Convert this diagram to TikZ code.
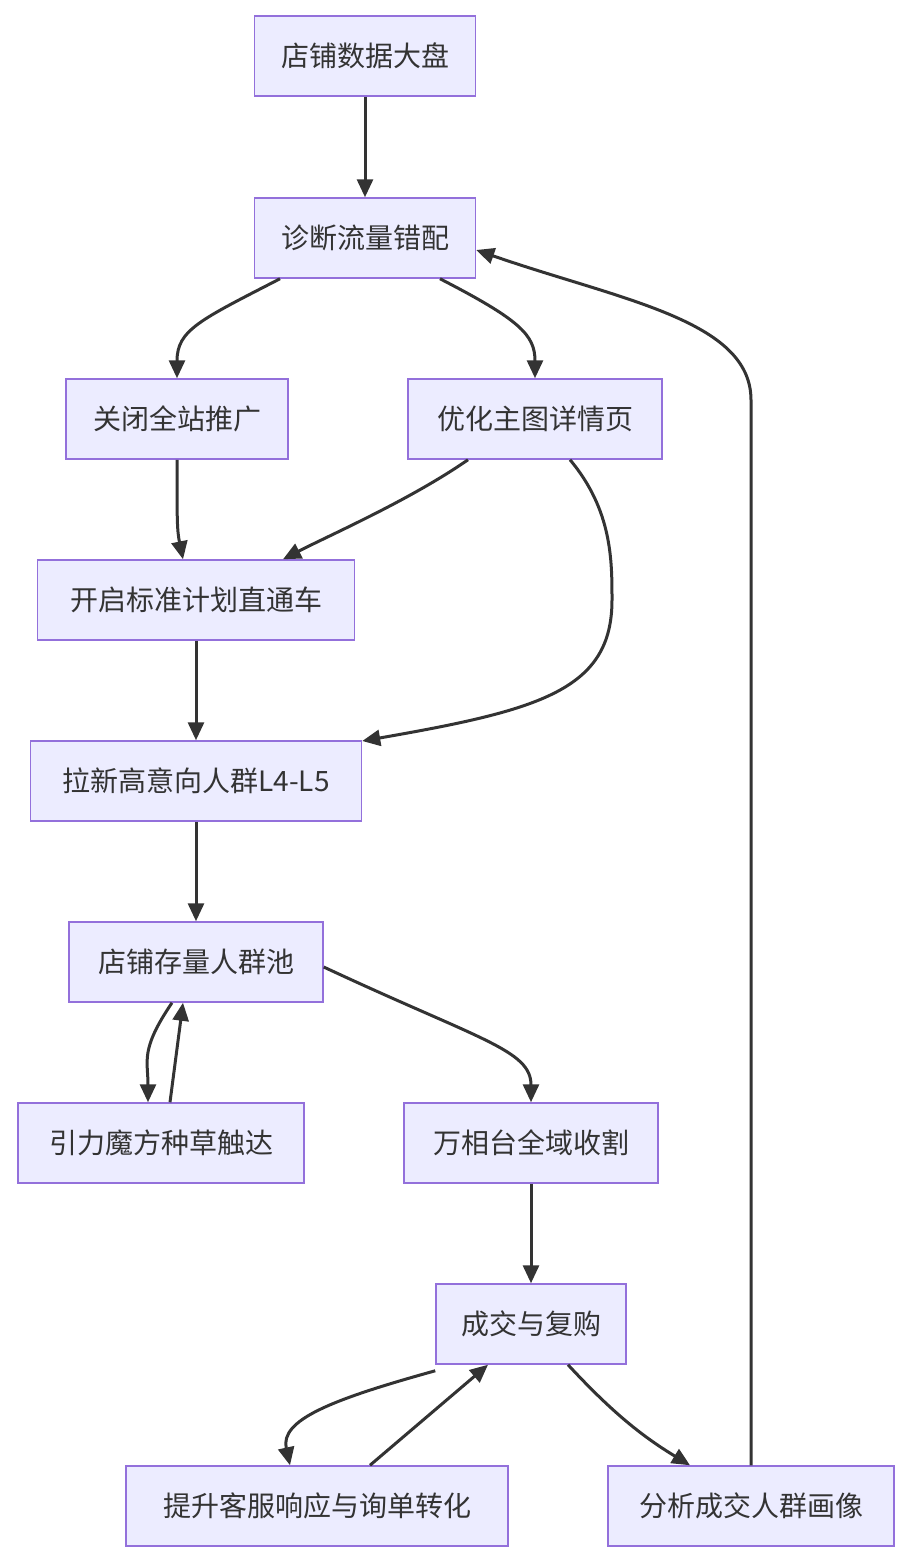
\documentclass[tikz,border=0pt]{standalone}
\usepackage{fontspec}
\setmainfont{Noto Sans CJK SC}
\usetikzlibrary{arrows.meta}
\definecolor{boxfill}{HTML}{ECECFF}
\definecolor{boxline}{HTML}{9370DB}
\definecolor{edge}{HTML}{333333}
\begin{document}
\begin{tikzpicture}[x=1pt, y=-1pt,
  box/.style={draw=boxline, fill=boxfill, line width=1.5pt, minimum height=80pt, inner sep=0pt, font=\fontsize{28}{34}\selectfont, text=edge},
  flow/.style={draw=edge, line width=3pt, -{Triangle[length=18pt,width=16pt]}}]
  \useasboundingbox (0,0) rectangle (912,1564);
  \node[box, minimum width=221pt] (A) at (365,56) {店铺数据大盘};
  \node[box, minimum width=221pt] (B) at (365,238) {诊断流量错配};
  \node[box, minimum width=222pt] (C) at (177,419) {关闭全站推广};
  \node[box, minimum width=254pt] (D) at (535,419) {优化主图详情页};
  \node[box, minimum width=317pt] (E) at (196,600) {开启标准计划直通车};
  \node[box, minimum width=331pt] (F) at (196,781) {拉新高意向人群L4-L5};
  \node[box, minimum width=254pt] (G) at (196,962) {店铺存量人群池};
  \node[box, minimum width=286pt] (H) at (161,1143) {引力魔方种草触达};
  \node[box, minimum width=254pt] (I) at (531,1143) {万相台全域收割};
  \node[box, minimum width=190pt] (J) at (531,1324) {成交与复购};
  \node[box, minimum width=382pt] (K) at (317,1506) {提升客服响应与询单转化};
  \node[box, minimum width=286pt] (L) at (751,1506) {分析成交人群画像};
  \draw[flow] (A) -- (B);
  \draw[flow] ([xshift=-85pt]B.south) .. controls (200,320) and (177,330) .. (C.north);
  \draw[flow] ([xshift=75pt]B.south) .. controls (520,320) and (535,335) .. (D.north);
  \draw[flow] (C.south) .. controls (177,520) and (177,530) .. ([xshift=-13pt]E.north);
  \draw[flow] ([xshift=-67pt]D.south) .. controls (410,500) and (330,535) .. ([xshift=87pt]E.north);
  \draw[flow] ([xshift=35pt]D.south) .. controls (612,510) and (612,560) .. (612,600)
    .. controls (612,690) and (540,710) .. (F.north east |- 0,741);
  \draw[flow] (E) -- (F);
  \draw[flow] (F) -- (G);
  \draw[flow] ([xshift=-24pt]G.south) .. controls (140,1050) and (148,1060) .. ([xshift=-13pt]H.north);
  \draw[flow] ([xshift=9pt]H.north) -- ([xshift=-13pt]G.south);
  \draw[flow] ([yshift=-5pt]G.east) .. controls (480,1040) and (531,1050) .. (I.north);
  \draw[flow] (I) -- (J);
  \draw[flow] ([yshift=-6pt]J.south west) .. controls (330,1400) and (280,1420) .. ([xshift=-27pt]K.north);
  \draw[flow] ([xshift=53pt]K.north) -- ([xshift=-43pt]J.south);
  \draw[flow] ([xshift=37pt]J.south) .. controls (610,1410) and (640,1435) .. ([xshift=-61pt]L.north);
  \draw[flow] (L.north) -- (751,400) .. controls (751,320) and (620,300) .. ([yshift=-12pt]B.east);
\end{tikzpicture}
\end{document}
